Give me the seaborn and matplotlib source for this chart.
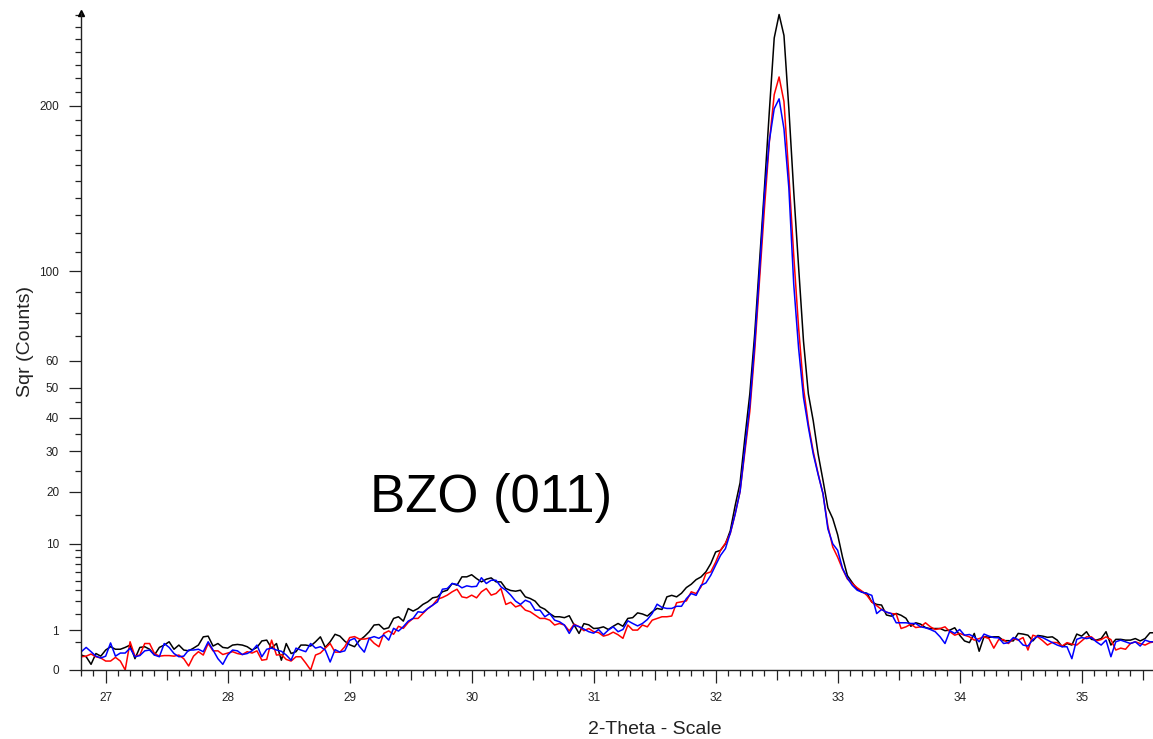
import numpy as np
import pandas as pd
import matplotlib
matplotlib.use("Agg")
import matplotlib.pyplot as plt
import seaborn as sns
from matplotlib.ticker import FixedLocator, NullFormatter

# ---- data -------------------------------------------------------------
theta_start = 26.80
theta_step = 0.04
n_points = 221
two_theta = np.round(theta_start + theta_step * np.arange(n_points), 2)

counts_black = [
    0.14, 0.11, 0.02, 0.17, 0.12, 0.25, 0.34, 0.27, 0.27, 0.32,
    0.39, 0.08, 0.32, 0.34, 0.27, 0.14, 0.32, 0.39, 0.50, 0.27,
    0.39, 0.25, 0.23, 0.30, 0.39, 0.69, 0.72, 0.36, 0.44, 0.32,
    0.30, 0.39, 0.41, 0.39, 0.34, 0.25, 0.32, 0.53, 0.56, 0.30,
    0.44, 0.06, 0.44, 0.17, 0.21, 0.39, 0.39, 0.36, 0.50, 0.69,
    0.32, 0.50, 0.80, 0.72, 0.52, 0.40, 0.34, 0.55, 0.70, 0.92,
    1.27, 1.30, 1.05, 1.12, 1.67, 1.78, 1.50, 2.37, 2.18, 2.37,
    2.70, 2.92, 3.27, 3.36, 3.84, 4.00, 4.70, 4.52, 5.45, 5.45,
    5.70, 5.25, 4.88, 5.18, 5.33, 4.88, 4.88, 4.17, 3.97, 3.90,
    4.00, 3.36, 3.21, 2.98, 2.50, 2.32, 2.00, 1.78, 1.78, 1.72,
    1.85, 1.27, 0.84, 1.35, 1.28, 1.08, 1.10, 1.17, 1.03, 1.20,
    1.36, 1.20, 1.67, 1.72, 2.05, 1.97, 1.83, 2.13, 2.38, 2.30,
    3.36, 3.50, 3.36, 3.70, 4.27, 4.62, 5.13, 5.44, 6.05, 7.11,
    8.75, 9.00, 10.0, 12.2, 17.0, 22.0, 34.0, 47.9, 70.9, 105.0,
    146.0, 196.0, 251.0, 270.0, 253.0, 198.0, 144.0, 102.0, 68.0, 47.9,
    39.0, 29.3, 22.6, 16.5, 14.4, 11.5, 8.0, 5.6, 4.8, 4.1,
    3.8, 3.7, 2.9, 2.7, 2.65, 1.9, 1.82, 2.01, 1.88, 1.68,
    1.20, 1.40, 1.32, 1.13, 1.07, 1.08, 1.08, 0.97, 1.00, 1.12,
    0.76, 0.53, 0.47, 0.84, 0.22, 0.70, 0.67, 0.69, 0.69, 0.54,
    0.54, 0.53, 0.84, 0.81, 0.76, 0.53, 0.75, 0.72, 0.67, 0.69,
    0.56, 0.34, 0.44, 0.39, 0.81, 0.72, 0.92, 0.59, 0.56, 0.62,
    0.92, 0.39, 0.59, 0.59, 0.56, 0.56, 0.62, 0.53, 0.62, 0.87,
    0.87,
]

counts_red = [
    0.11, 0.12, 0.16, 0.11, 0.09, 0.05, 0.05, 0.10, 0.05, 0.00,
    0.50, 0.12, 0.14, 0.44, 0.44, 0.17, 0.12, 0.13, 0.13, 0.12,
    0.14, 0.08, 0.01, 0.12, 0.21, 0.14, 0.44, 0.23, 0.23, 0.15,
    0.18, 0.21, 0.17, 0.15, 0.21, 0.18, 0.23, 0.06, 0.07, 0.56,
    0.14, 0.15, 0.07, 0.05, 0.11, 0.11, 0.03, 0.00, 0.14, 0.18,
    0.30, 0.44, 0.20, 0.20, 0.34, 0.66, 0.70, 0.60, 0.60, 0.64,
    0.45, 0.34, 0.84, 0.96, 0.80, 1.20, 1.09, 1.42, 1.67, 1.67,
    2.00, 2.37, 2.64, 3.15, 3.30, 3.52, 3.84, 4.10, 3.36, 3.27,
    3.52, 3.27, 3.84, 4.17, 3.52, 3.68, 4.17, 2.70, 2.88, 2.50,
    2.64, 2.25, 2.13, 1.89, 1.67, 1.67, 1.56, 1.27, 1.36, 1.27,
    0.96, 1.32, 1.18, 0.97, 1.08, 0.92, 0.88, 0.72, 0.78, 0.90,
    0.78, 0.63, 1.27, 1.00, 1.00, 1.27, 1.17, 1.56, 1.67, 1.78,
    1.78, 1.83, 2.84, 2.92, 3.00, 3.84, 3.67, 4.34, 5.84, 6.05,
    7.30, 9.00, 10.1, 11.7, 15.3, 20.0, 30.0, 42.0, 64.0, 96.0,
    134.0, 175.0, 208.0, 221.0, 203.0, 154.0, 108.0, 73.6, 50.0, 38.0,
    30.0, 24.2, 19.5, 13.0, 9.5, 8.0, 6.4, 5.2, 4.7, 4.25,
    3.9, 3.5, 2.9, 2.6, 2.3, 2.1, 2.0, 1.97, 1.08, 1.17,
    1.32, 1.13, 1.17, 1.40, 1.17, 1.03, 1.08, 1.17, 0.92, 0.76,
    0.84, 0.76, 0.69, 0.56, 0.62, 0.69, 0.62, 0.30, 0.58, 0.58,
    0.44, 0.62, 0.56, 0.66, 0.25, 0.76, 0.69, 0.54, 0.39, 0.48,
    0.47, 0.36, 0.47, 0.42, 0.39, 0.53, 0.69, 0.69, 0.53, 0.58,
    0.69, 0.58, 0.25, 0.30, 0.27, 0.44, 0.50, 0.44, 0.39, 0.47,
    0.50,
]

counts_blue = [
    0.21, 0.32, 0.21, 0.12, 0.09, 0.12, 0.46, 0.12, 0.18, 0.18,
    0.30, 0.11, 0.13, 0.23, 0.25, 0.14, 0.11, 0.44, 0.32, 0.17,
    0.11, 0.12, 0.25, 0.25, 0.27, 0.21, 0.50, 0.25, 0.08, 0.02,
    0.14, 0.25, 0.23, 0.15, 0.17, 0.23, 0.39, 0.11, 0.27, 0.30,
    0.25, 0.22, 0.14, 0.06, 0.30, 0.25, 0.21, 0.44, 0.30, 0.34,
    0.25, 0.04, 0.26, 0.20, 0.23, 0.55, 0.63, 0.35, 0.20, 0.63,
    0.70, 0.63, 0.77, 0.56, 1.09, 0.95, 1.18, 1.50, 1.67, 2.13,
    2.08, 2.37, 2.64, 2.92, 4.10, 4.17, 4.70, 4.60, 4.24, 4.45,
    4.35, 4.40, 5.35, 4.70, 5.06, 5.06, 4.35, 4.00, 3.52, 2.98,
    2.70, 3.06, 2.88, 2.25, 2.25, 1.78, 2.00, 1.56, 1.46, 1.27,
    0.84, 1.27, 1.18, 1.05, 0.92, 0.85, 1.03, 0.78, 1.00, 1.17,
    0.92, 1.03, 1.52, 1.36, 1.22, 1.36, 1.60, 2.01, 2.72, 2.46,
    2.38, 2.38, 2.55, 2.55, 3.20, 3.67, 3.50, 4.50, 4.76, 5.64,
    6.90, 8.25, 9.25, 11.8, 15.3, 20.0, 31.0, 44.0, 67.0, 100.0,
    142.0, 176.0, 198.0, 205.0, 184.0, 146.0, 93.5, 65.0, 46.7, 37.0,
    29.3, 24.0, 19.5, 12.5, 10.0, 9.0, 6.5, 5.3, 4.5, 4.0,
    3.8, 3.67, 3.5, 2.0, 2.3, 2.1, 2.0, 1.4, 1.4, 1.4,
    1.36, 1.36, 1.17, 1.12, 1.03, 0.92, 0.69, 0.44, 0.97, 0.84,
    1.03, 0.76, 0.79, 0.69, 0.50, 0.81, 0.72, 0.66, 0.65, 0.44,
    0.47, 0.66, 0.58, 0.39, 0.36, 0.58, 0.72, 0.66, 0.56, 0.47,
    0.39, 0.34, 0.34, 0.08, 0.59, 0.66, 0.62, 0.66, 0.50, 0.39,
    0.56, 0.11, 0.50, 0.56, 0.50, 0.44, 0.50, 0.36, 0.56, 0.50,
    0.50,
]

series_names = ["black", "red", "blue"]
series_colors = {"black": "#000000", "red": "#ff0000", "blue": "#0000ff"}

x_major = [27, 28, 29, 30, 31, 32, 33, 34, 35]
y_major = [0, 1, 10, 20, 30, 40, 50, 60, 100, 200]
y_minor = [0.5, 2, 3, 4, 5, 6, 7, 8, 9, 15, 25, 35, 45, 70, 80, 90,
           110, 120, 130, 140, 150, 160, 170, 180, 190,
           210, 220, 230, 240, 250, 260, 270]
annotation_text = "BZO (011)"

# ---- figure -----------------------------------------------------------
df = pd.DataFrame({
    "2theta": np.tile(two_theta, 3),
    "counts": np.concatenate([counts_black, counts_red, counts_blue]),
    "sample": np.repeat(series_names, n_points),
})

sns.set_style("ticks")
plt.rcParams["font.family"] = ["Liberation Sans", "DejaVu Sans"]

fig = plt.figure(figsize=(11.53, 7.39), dpi=100)
ax = fig.add_axes([0.0705, 0.0934, 0.9295, 0.8886])

sns.lineplot(data=df, x="2theta", y="counts", hue="sample",
             hue_order=series_names, palette=series_colors,
             estimator=None, sort=False, linewidth=1.1, legend=False, ax=ax)

def fwd(v):
    return np.sqrt(np.clip(v, 0, None))

def inv(v):
    return np.square(v)

ax.set_yscale("function", functions=(fwd, inv))
ax.set_xlim(26.8, 35.585)
ax.set_ylim(0, 271)

ax.xaxis.set_major_locator(FixedLocator(x_major))
ax.xaxis.set_minor_locator(FixedLocator(
    [v for v in np.round(np.arange(26.8, 35.6, 0.1), 1) if abs(v * 2 - round(v * 2)) > 1e-6]))
ax.yaxis.set_major_locator(FixedLocator(y_major))
ax.yaxis.set_minor_locator(FixedLocator(y_minor))
ax.yaxis.set_major_formatter(plt.FuncFormatter(lambda v, p: f"{v:g}"))
ax.yaxis.set_minor_formatter(NullFormatter())

ink = "#222222"
for s in ["top", "right"]:
    ax.spines[s].set_visible(False)
for s in ["left", "bottom"]:
    ax.spines[s].set_color(ink)
    ax.spines[s].set_linewidth(1.0)

ax.tick_params(axis="both", which="major", direction="out", length=9, width=0.9,
               color=ink, labelcolor=ink, labelsize=8.5)
ax.tick_params(axis="x", which="major", pad=7)
ax.tick_params(axis="y", which="major", pad=7)
ax.tick_params(axis="both", which="minor", direction="out", length=4.5, width=0.9, color=ink)

# medium ticks at half-degree positions
sec = ax.secondary_xaxis("bottom", functions=(lambda v: v, lambda v: v))
sec.set_xticks([27.5, 28.5, 29.5, 30.5, 31.5, 32.5, 33.5, 34.5, 35.5])
sec.tick_params(direction="out", length=7, width=0.9, color=ink, labelbottom=False)
sec.spines["bottom"].set_visible(False)

ax.set_xlabel("2-Theta - Scale", fontsize=14, color=ink)
ax.set_ylabel("Sqr (Counts)", fontsize=14, color=ink)
ax.xaxis.set_label_coords(0.535, -0.077)
ax.yaxis.set_label_coords(-0.044, 0.5)

ax.text(29.17, 15.6, annotation_text, fontsize=38, ha="left", va="baseline", color="black")

# axis arrow head at the top of the y axis
ax.plot([0], [1], marker="^", markersize=5, color="black", transform=ax.transAxes, clip_on=False)

fig.savefig("out.png", dpi=100)
